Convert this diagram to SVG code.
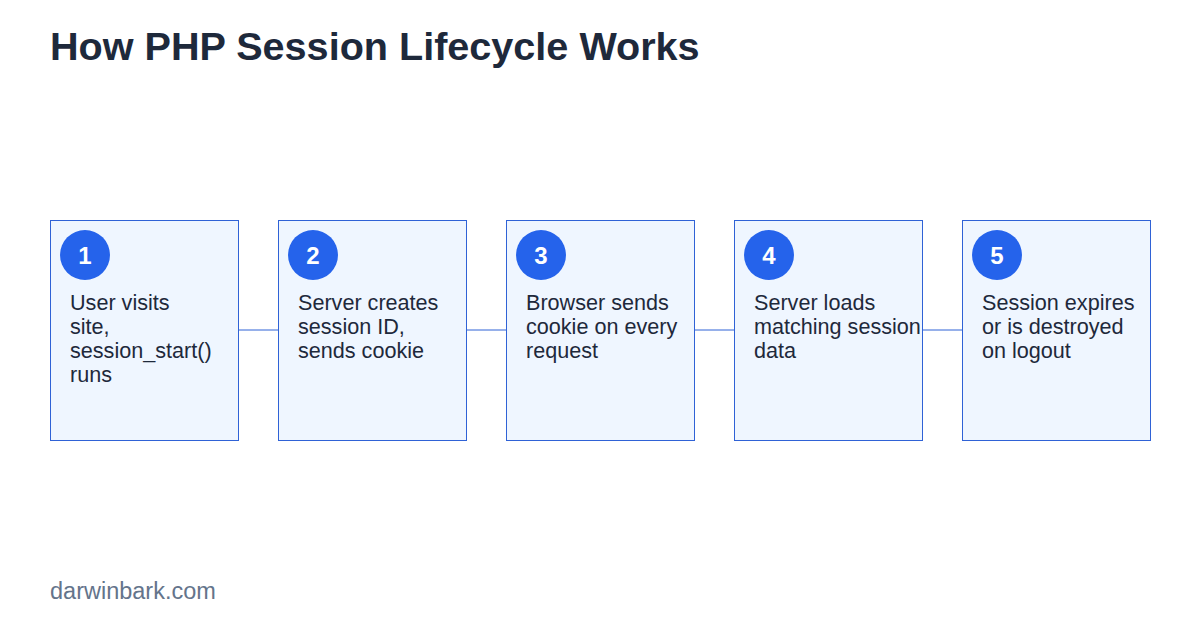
<svg xmlns="http://www.w3.org/2000/svg" width="1200" height="630" viewBox="0 0 1200 630">
<style>
.title{font-family:"Liberation Sans",Arial,sans-serif;font-weight:bold;font-size:39.6px;fill:#1e293b}
.box{fill:#eff6ff;stroke:#2f62d6;stroke-width:1}
.num{fill:#2563eb}
.numt{font-family:"Liberation Sans",Arial,sans-serif;font-weight:bold;font-size:24px;fill:#ffffff;text-anchor:middle}
.lbl{font-family:"Liberation Sans",Arial,sans-serif;font-size:21.6px;fill:#1e293b}
.conn{stroke:#2f62d6;stroke-width:1;fill:none}
.foot{font-family:"Liberation Sans",Arial,sans-serif;font-size:23.5px;fill:#64748b}
</style>
<rect width="1200" height="630" fill="#ffffff"/>
<text class="title" x="50" y="60">How PHP Session Lifecycle Works</text>
<g id="connectors">
<line class="conn" x1="238" y1="330" x2="278" y2="330"/>
<line class="conn" x1="466" y1="330" x2="506" y2="330"/>
<line class="conn" x1="694" y1="330" x2="734" y2="330"/>
<line class="conn" x1="922" y1="330" x2="962" y2="330"/>
</g>
<g id="step1">
<rect class="box" x="50.5" y="220.5" width="188" height="220"/>
<circle class="num" cx="85" cy="255" r="25"/>
<text class="numt" x="85" y="263.5">1</text>
<text class="lbl"><tspan x="70" y="310">User visits</tspan><tspan x="70" y="334">site,</tspan><tspan x="70" y="358">session_start()</tspan><tspan x="70" y="382">runs</tspan></text>
</g>
<g id="step2">
<rect class="box" x="278.5" y="220.5" width="188" height="220"/>
<circle class="num" cx="313" cy="255" r="25"/>
<text class="numt" x="313" y="263.5">2</text>
<text class="lbl"><tspan x="298" y="310">Server creates</tspan><tspan x="298" y="334">session ID,</tspan><tspan x="298" y="358">sends cookie</tspan></text>
</g>
<g id="step3">
<rect class="box" x="506.5" y="220.5" width="188" height="220"/>
<circle class="num" cx="541" cy="255" r="25"/>
<text class="numt" x="541" y="263.5">3</text>
<text class="lbl"><tspan x="526" y="310">Browser sends</tspan><tspan x="526" y="334">cookie on every</tspan><tspan x="526" y="358">request</tspan></text>
</g>
<g id="step4">
<rect class="box" x="734.5" y="220.5" width="188" height="220"/>
<circle class="num" cx="769" cy="255" r="25"/>
<text class="numt" x="769" y="263.5">4</text>
<text class="lbl"><tspan x="754" y="310">Server loads</tspan><tspan x="754" y="334">matching session</tspan><tspan x="754" y="358">data</tspan></text>
</g>
<g id="step5">
<rect class="box" x="962.5" y="220.5" width="188" height="220"/>
<circle class="num" cx="997" cy="255" r="25"/>
<text class="numt" x="997" y="263.5">5</text>
<text class="lbl"><tspan x="982" y="310">Session expires</tspan><tspan x="982" y="334">or is destroyed</tspan><tspan x="982" y="358">on logout</tspan></text>
</g>
<text class="foot" x="50" y="599">darwinbark.com</text>
</svg>
